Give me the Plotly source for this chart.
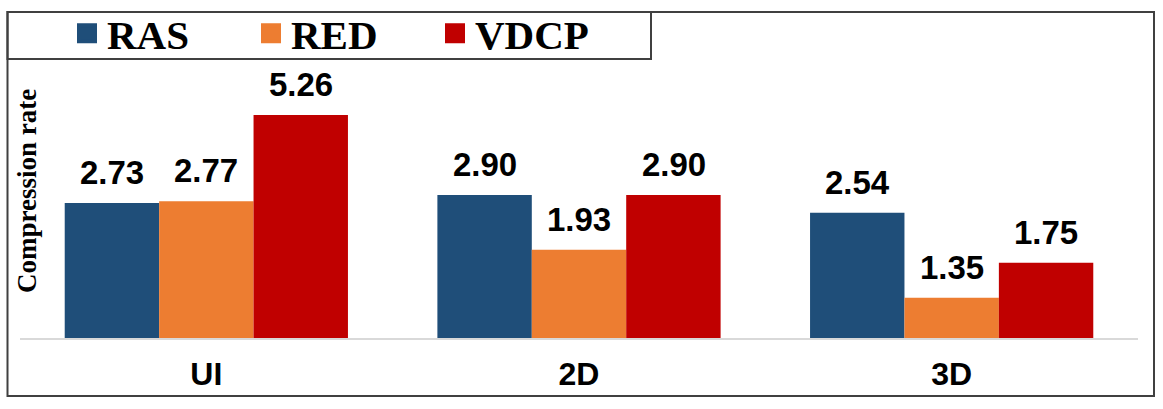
import math
import plotly.graph_objects as go

categories = ["UI", "2D", "3D"]
series_names = ["RAS", "RED", "VDCP"]
ras = [2.73, 2.90, 2.54]
red = [2.77, 1.93, 1.35]
vdcp = [5.26, 2.90, 1.75]
colors = ["#1F4E79", "#ED7D31", "#C00000"]

W, H = 1163, 409
PL, PR, PT, PB = 20, 1138, 70, 338  # plot area in pixels
YMAX = (PB - PT) / 309.3  # log decades shown


def px_x(p):
    return (p - PL) / (PR - PL)


def px_y(p):
    return (PB - p) / (PB - PT)


fig = go.Figure()
all_series = [ras, red, vdcp]
for name, vals, col in zip(series_names, all_series, colors):
    fig.add_trace(go.Bar(x=categories, y=vals, name=name, marker=dict(color=col, line=dict(width=0)),
                         showlegend=False))
    # legend proxy
    fig.add_trace(go.Scatter(x=[None], y=[None], mode="markers", name=name,
                             marker=dict(symbol="square", size=16, color=col, line=dict(width=4, color=col))))

# value labels
offsets = [-94.5, 0, 94.5]
annotations = []
for vals, off in zip(all_series, offsets):
    for c, v in zip(categories, vals):
        annotations.append(dict(x=c, y=math.log10(v), xref="x", yref="y", text=f"{v:.2f}",
                                showarrow=False, xshift=off, yanchor="bottom", yshift=10,
                                font=dict(family="Liberation Sans, Arial", size=33, color="black", weight="bold")))

annotations.append(dict(x=px_x(27), y=px_y(191), xref="paper", yref="paper", text="Compression rate",
                        textangle=-90, showarrow=False, xanchor="center", yanchor="middle",
                        font=dict(family="Liberation Serif, Times New Roman", size=27, color="black", weight="bold")))

shapes = [
    dict(type="rect", xref="paper", yref="paper", x0=px_x(7.5), x1=px_x(1154), y0=px_y(396), y1=px_y(12),
         line=dict(color="#404040", width=2), fillcolor="rgba(0,0,0,0)", layer="above"),
    dict(type="rect", xref="paper", yref="paper", x0=px_x(7.5), x1=px_x(651), y0=px_y(59), y1=px_y(12),
         line=dict(color="#404040", width=2), fillcolor="rgba(0,0,0,0)", layer="above"),
]

fig.update_layout(
    width=W, height=H,
    margin=dict(l=PL, r=W - PR, t=PT, b=H - PB, autoexpand=False),
    paper_bgcolor="white", plot_bgcolor="white",
    barmode="group", bargap=0.24, bargroupgap=0,
    annotations=annotations, shapes=shapes,
    showlegend=True,
    legend=dict(orientation="h", xref="container", yref="container", x=67 / W, y=1.0,
                xanchor="left", yanchor="top", borderwidth=0, bgcolor="rgba(0,0,0,0)",
                itemsizing="trace", entrywidth=139, entrywidthmode="pixels",
                font=dict(family="Liberation Serif, Times New Roman", size=41, color="black", weight="bold")),
    xaxis=dict(showline=True, linecolor="#d9d9d9", linewidth=1.5, ticks="", showgrid=False,
               ticklabelstandoff=7,
               tickfont=dict(family="Liberation Sans, Arial", size=32, color="black", weight="bold")),
    yaxis=dict(type="log", range=[0, YMAX], showticklabels=False, showgrid=False, zeroline=False,
               showline=False, ticks=""),
)

fig.write_html("out.html")
